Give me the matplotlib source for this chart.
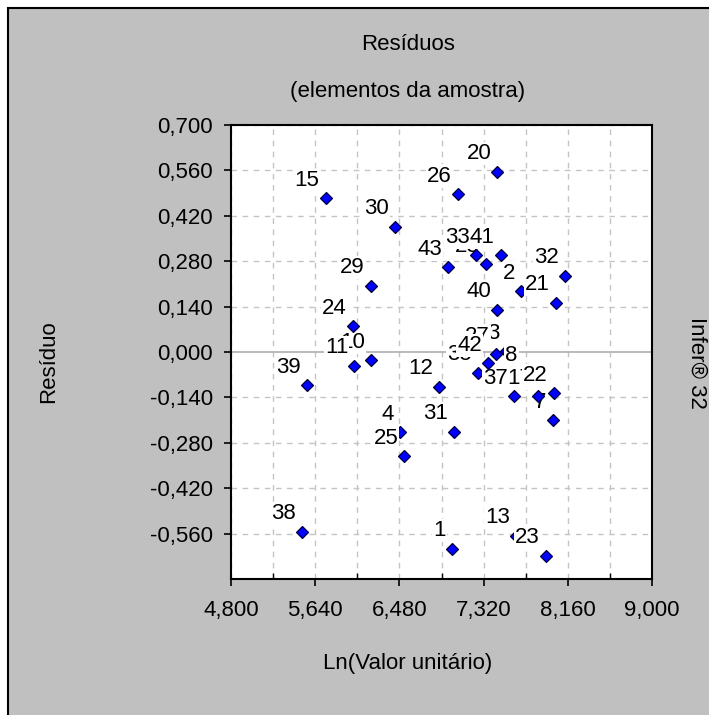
import numpy as np
import matplotlib.pyplot as plt
from matplotlib.patches import Rectangle
from matplotlib.ticker import FixedLocator, FuncFormatter

# residuals per sample element
ids = [15, 20, 26, 30, 43, 33, 28, 41, 2, 32, 21, 29, 40, 24, 11, 10, 39, 12,
       4, 25, 31, 38, 1, 13, 23, 27, 3, 42, 35, 37, 17, 22, 7, 8]
ln_valor = [5.745, 7.458, 7.062, 6.437, 6.969, 7.245, 7.345, 7.492, 7.694, 8.133,
            8.043, 6.197, 7.455, 6.015, 6.031, 6.200, 5.562, 6.876, 6.487, 6.530,
            7.026, 5.506, 7.003, 7.645, 7.941, 7.445, 7.545, 7.368, 7.268, 7.627,
            7.867, 8.024, 8.011, 7.724]
residuo = [0.474, 0.556, 0.487, 0.386, 0.261, 0.299, 0.270, 0.299, 0.188, 0.235,
           0.152, 0.204, 0.130, 0.080, -0.043, -0.025, -0.102, -0.107, -0.247, -0.321,
           -0.246, -0.554, -0.607, -0.567, -0.628, -0.007, 0.003, -0.035, -0.064, -0.136,
           -0.136, -0.127, -0.210, -0.065]

x_ticks = [4.80, 5.64, 6.48, 7.32, 8.16, 9.00]
y_ticks = [0.70, 0.56, 0.42, 0.28, 0.14, 0.00, -0.14, -0.28, -0.42, -0.56]

W, H = 709, 715
fig = plt.figure(figsize=(W / 100, H / 100), dpi=100, facecolor='white')
plt.rcParams['font.family'] = ['Liberation Sans', 'DejaVu Sans']
fs = 16

# grey panel with dark frame
fig.patches.append(Rectangle((8 / W, -0.02), 1.1, (H - 8) / H + 0.02,
                             transform=fig.transFigure, facecolor='#c0c0c0',
                             edgecolor='black', lw=1.5, zorder=-10))

ax = fig.add_axes([231 / W, (H - 579) / H, 421 / W, 454 / H])
ax.set_zorder(1)
ax.set_facecolor('white')
ax.set_xlim(4.8, 9.0)
ax.set_ylim(-0.7, 0.7)

fmt = FuncFormatter(lambda v, p: f"{v:.3f}".replace('.', ','))
ax.xaxis.set_major_locator(FixedLocator(x_ticks))
ax.xaxis.set_minor_locator(FixedLocator([a + 0.42 for a in x_ticks[:-1]]))
ax.yaxis.set_major_locator(FixedLocator(y_ticks))
ax.xaxis.set_major_formatter(fmt)
ax.yaxis.set_major_formatter(fmt)
ax.tick_params(axis='both', which='major', direction='out', length=5, width=1.2,
               labelsize=fs, color='black')
ax.tick_params(axis='x', which='major', pad=10)
ax.tick_params(axis='y', which='major', pad=8)
ax.tick_params(axis='x', which='minor', direction='in', length=4, width=1)
for s in ax.spines.values():
    s.set_linewidth(1.5)

# dashed grid
for xv in list(x_ticks) + [a + 0.42 for a in x_ticks[:-1]]:
    ax.axvline(xv, color='#c4c4c4', lw=1, ls=(0, (4, 4)), zorder=1)
for yv in y_ticks:
    if yv != 0:
        ax.axhline(yv, color='#c4c4c4', lw=1, ls=(0, (4, 4)), zorder=1)
ax.axhline(0, color='#b4b4b4', lw=1.3, zorder=1)

# points and their labels, drawn in element order
order = np.argsort(ids)
for k in order:
    z = 3 + 2 * ids[k]
    ax.plot(ln_valor[k], residuo[k], marker='D', ms=6.5, mfc='#0000ff',
            mec='#00003c', mew=0.9, ls='none', zorder=z)
    ax.annotate(str(ids[k]), (ln_valor[k], residuo[k]), xytext=(-4.5, 9),
                textcoords='offset points', ha='right', va='baseline',
                fontsize=fs, zorder=z + 1,
                bbox=dict(boxstyle='square,pad=0.05', fc='white', ec='none'))

fig.text(408 / W, 1 - 45 / H, 'Resíduos', ha='center', va='center', fontsize=fs)
fig.text(408 / W, 1 - 92 / H, '(elementos da amostra)', ha='center', va='center',
         fontsize=fs)
fig.text(408 / W, 1 - 663 / H, 'Ln(Valor unitário)', ha='center', va='center',
         fontsize=fs)
fig.text(49 / W, 1 - 362 / H, 'Resíduo', ha='center', va='center', rotation=90,
         fontsize=fs)
fig.text(697 / W, 1 - 363 / H, 'Infer® 32', ha='center', va='center', rotation=-90,
         fontsize=fs)

fig.savefig('out.png', dpi=100)
